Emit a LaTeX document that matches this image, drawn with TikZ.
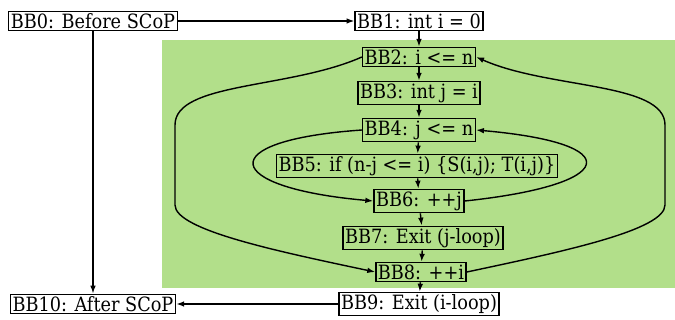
\documentclass[tikz,border=0pt]{standalone}
\usepackage{fontspec}
\setmainfont{DejaVu Serif Condensed}
\usetikzlibrary{arrows.meta}
\definecolor{scopgreen}{RGB}{178,223,138}
\tikzstyle{bb}=[draw, line width=0.8pt, inner sep=1.2pt, font=\fontsize{11.2}{13}\selectfont]
\tikzstyle{scop}=[fill=scopgreen]

\begin{document}
\begin{tikzpicture}[x=0.02cm, y=-0.02cm, line width=0.8pt, >={Latex[length=4.5pt,width=3.2pt]}]
\useasboundingbox (0,0) rectangle (675,320);

% the SCoP region
\fill[scop] (162,40) rectangle (675,288);

\node[bb] (bb0) at (93,21) {BB0: Before SCoP};
\node[bb] (bb1) at (419,21) {BB1: int i = 0};
\node[bb] (bb2) at (419,57) {BB2: i <= n};
\node[bb] (bb3) at (419,93) {BB3: int j = i};
\node[bb] (bb4) at (419,130) {BB4: j <= n};
\node[bb] (bb5) at (417,166) {BB5: if (n-j <= i) \{S(i,j); T(i,j)\}};
\node[bb] (bb6) at (419,201) {BB6: ++j};
\node[bb] (bb7) at (423,238) {BB7: Exit (j-loop)};
\node[bb] (bb8) at (421,272) {BB8: ++i};
\node[bb] (bb9) at (419,304) {BB9: Exit (i-loop)};
\node[bb] (bb10) at (93,304) {BB10: After SCoP};

% bends of the outer loop
\coordinate (ltop) at (175,125);
\coordinate (lbot) at (175,205);
\coordinate (rtop) at (665,125);
\coordinate (rbot) at (665,205);

\draw[->] (bb0) -- (bb1);
\draw[->] (bb0) -- (bb10);
\draw[->] (bb1) -- (bb2);
\draw[->] (bb2) -- (bb3);
\draw[->] (bb3) -- (bb4);
\draw[->] (bb4) -- (bb5);
\draw[->] (bb5) -- (bb6);
\draw[->] (bb6) -- (bb7);
\draw[->] (bb7) -- (bb8);
\draw[->] (bb8) -- (bb9);
\draw[->] (bb9) -- (bb10);

% i-loop
\draw[->] (bb2.west) to[out=204, in=90, out distance=1.58cm, in distance=0.86cm] (ltop)
  -- (lbot) to[out=270, in=168, out distance=0.5cm, in distance=2cm] (bb8.west);
\draw[->] (bb8.east) to[out=12, in=270, out distance=2cm, in distance=0.5cm] (rbot)
  -- (rtop) to[out=90, in=-24, out distance=0.86cm, in distance=1.58cm] (bb2.east);

% j-loop
\draw[->] (bb4.west) to[out=184, in=175, out distance=3.04cm, in distance=3.04cm] (bb6.west);
\draw[->] (bb6.east) to[out=6, in=-5, out distance=3.08cm, in distance=3.08cm] (bb4.east);

\end{tikzpicture}
\end{document}
